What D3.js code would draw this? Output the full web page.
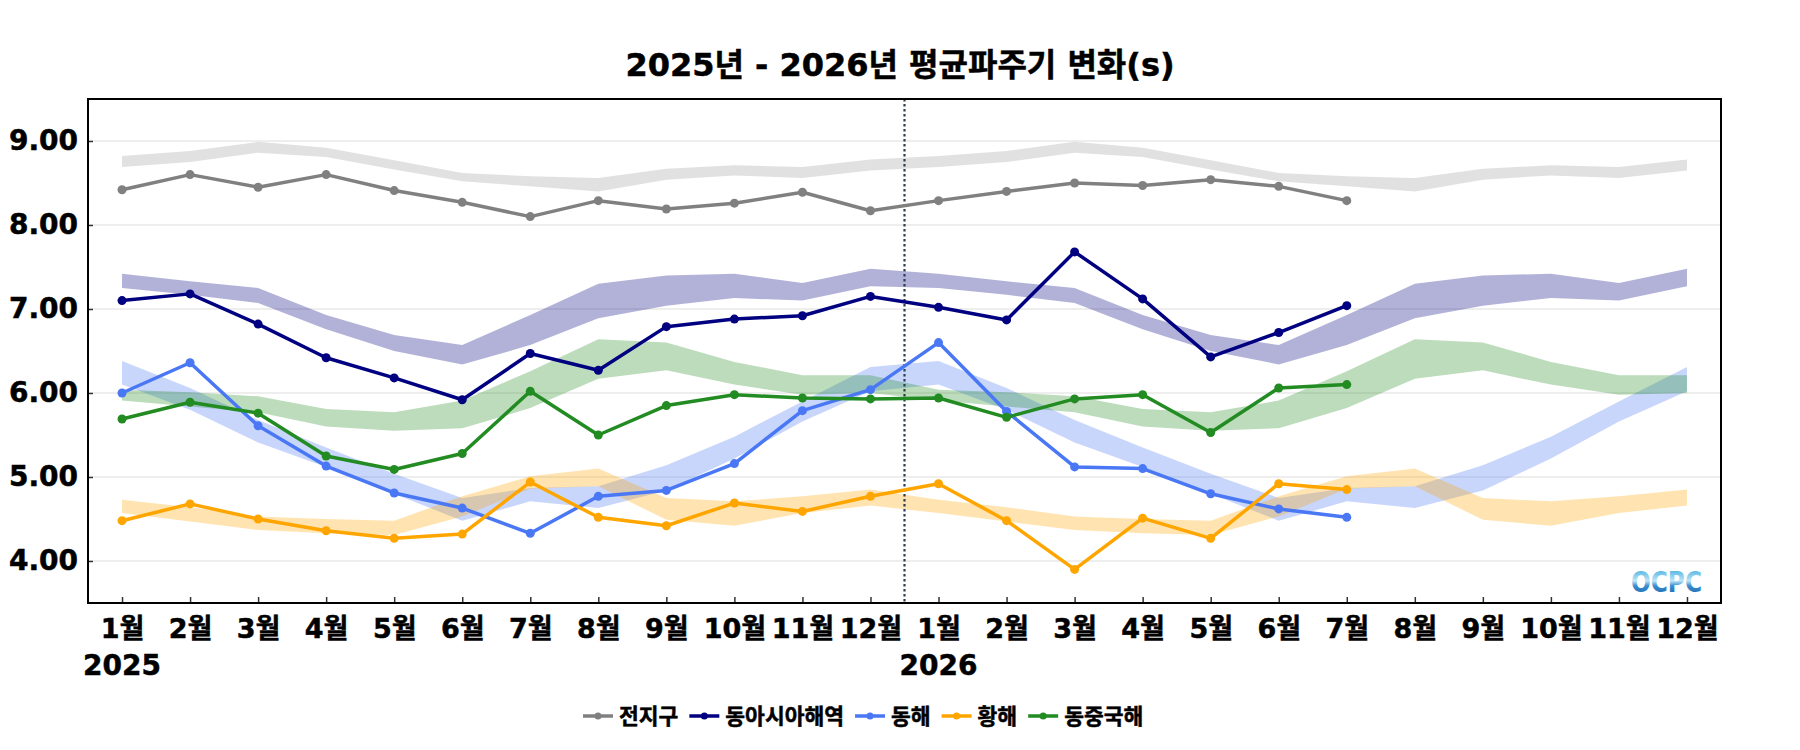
<!DOCTYPE html>
<html>
<head>
<meta charset="utf-8">
<title>평균파주기 변화</title>
<script src="https://d3js.org/d3.v7.min.js"></script>
<style>
	body { margin: 0; background: #ffffff; }
	svg text { font-family: 'DejaVu Sans', 'Noto Sans CJK KR', sans-serif; font-weight: bold; fill: #000; stroke: #000; stroke-width: 0.5px; }
	.grid line { stroke: #dddddd; stroke-width: 1px; }
	.axis path { display: none; }
	.axis line { stroke: #333333; stroke-width: 1.5px; }
</style>
</head>
<body>
<script>
'use strict';
const months = ['1월', '2월', '3월', '4월', '5월', '6월', '7월', '8월', '9월', '10월', '11월', '12월'];
const years = ['2025', '2026'];
const yTicks = [4, 5, 6, 7, 8, 9];

// monthly observations, Jan 2025 .. Jul 2026
const seriesNames = ['전지구', '동아시아해역', '동해', '황해', '동중국해'];
const global = [8.42, 8.60, 8.45, 8.60, 8.41, 8.27, 8.10, 8.29, 8.19, 8.26, 8.39, 8.17, 8.29, 8.40, 8.50, 8.47, 8.54, 8.46, 8.29];
const eastAsia = [7.10, 7.18, 6.82, 6.42, 6.18, 5.92, 6.47, 6.27, 6.79, 6.88, 6.92, 7.15, 7.02, 6.87, 7.68, 7.12, 6.43, 6.72, 7.04];
const eastSea = [6.00, 6.36, 5.61, 5.13, 4.81, 4.63, 4.33, 4.77, 4.84, 5.16, 5.79, 6.04, 6.60, 5.78, 5.12, 5.10, 4.80, 4.62, 4.52];
const yellowSea = [4.48, 4.68, 4.50, 4.36, 4.27, 4.32, 4.94, 4.52, 4.42, 4.69, 4.59, 4.77, 4.92, 4.48, 3.90, 4.51, 4.27, 4.92, 4.85];
const eastChinaSea = [5.69, 5.89, 5.76, 5.25, 5.09, 5.28, 6.02, 5.50, 5.85, 5.98, 5.94, 5.93, 5.94, 5.71, 5.93, 5.98, 5.53, 6.06, 6.10];

// climatological range per month (same for each year)
const globalHi = [8.82, 8.88, 8.99, 8.92, 8.77, 8.62, 8.58, 8.56, 8.67, 8.71, 8.69, 8.78];
const globalLo = [8.69, 8.75, 8.86, 8.81, 8.66, 8.52, 8.46, 8.40, 8.54, 8.59, 8.56, 8.65];
const eastAsiaHi = [7.42, 7.33, 7.25, 6.93, 6.69, 6.57, 6.93, 7.30, 7.40, 7.42, 7.31, 7.48];
const eastAsiaLo = [7.25, 7.17, 7.07, 6.76, 6.50, 6.34, 6.57, 6.89, 7.04, 7.13, 7.10, 7.27];
const eastSeaHi = [6.38, 6.06, 5.68, 5.35, 5.04, 4.75, 4.87, 4.89, 5.14, 5.48, 5.90, 6.31];
const eastSeaLo = [6.10, 5.80, 5.41, 5.12, 4.80, 4.48, 4.71, 4.63, 4.84, 5.22, 5.66, 6.02];
const yellowSeaHi = [4.73, 4.64, 4.53, 4.50, 4.48, 4.77, 5.01, 5.10, 4.75, 4.71, 4.77, 4.85];
const yellowSeaLo = [4.57, 4.47, 4.37, 4.33, 4.31, 4.53, 4.86, 4.89, 4.49, 4.42, 4.57, 4.66];
const eastChinaSeaHi = [6.04, 6.01, 5.96, 5.81, 5.77, 5.91, 6.26, 6.64, 6.60, 6.37, 6.21, 6.21];
const eastChinaSeaLo = [5.91, 5.84, 5.77, 5.60, 5.55, 5.58, 5.82, 6.17, 6.27, 6.10, 5.98, 6.00];

const colors = ['#808080', '#000080', '#4a78f5', '#ffa500', '#228b22'];
const lines = [global, eastAsia, eastSea, yellowSea, eastChinaSea];
const bands = [[globalHi, globalLo], [eastAsiaHi, eastAsiaLo], [eastSeaHi, eastSeaLo],
	[yellowSeaHi, yellowSeaLo], [eastChinaSeaHi, eastChinaSeaLo]];

const W = 1800, H = 750;
const plotLeft = 88, plotRight = 1721, plotTop = 99, plotBottom = 603;
const nMonths = months.length * years.length;

const x = d3.scaleLinear().domain([-0.5, nMonths - 0.5]).range([plotLeft, plotRight]);
const y = d3.scaleLinear().domain([3.5, 9.5]).range([plotBottom, plotTop]);

const svg = d3.select('body').append('svg')
	.attr('width', W)
	.attr('height', H);

// title
svg.append('text')
	.attr('x', 900)
	.attr('y', 76)
	.attr('text-anchor', 'middle')
	.style('font-size', '32px')
	.text('2025년 - 2026년 평균파주기 변화(s)');

// horizontal grid
svg.append('g')
	.attr('class', 'grid')
	.selectAll('line')
	.data(yTicks)
	.enter().append('line')
		.attr('x1', plotLeft)
		.attr('x2', plotRight)
		.attr('y1', d => y(d))
		.attr('y2', d => y(d));

// bands: climatology repeated for both years
const area = d3.area()
	.x(d => x(d.i))
	.y0(d => y(d.lo))
	.y1(d => y(d.hi));

bands.forEach(function (b, k) {
	const pts = d3.range(nMonths).map(i => ({ i: i, hi: b[0][i % 12], lo: b[1][i % 12] }));
	svg.append('path')
		.datum(pts)
		.attr('d', area)
		.attr('fill', colors[k])
		.attr('fill-opacity', k === 0 ? 0.24 : 0.3);
});

// year divider
svg.append('line')
	.attr('x1', x(11.5))
	.attr('x2', x(11.5))
	.attr('y1', plotTop)
	.attr('y2', plotBottom)
	.attr('stroke', '#2c3e50')
	.attr('stroke-width', 2.2)
	.attr('stroke-dasharray', '2.5,2.5');

// observed series
const line = d3.line()
	.x((d, i) => x(i))
	.y(d => y(d));

lines.forEach(function (s, k) {
	const g = svg.append('g');
	g.append('path')
		.datum(s)
		.attr('d', line)
		.attr('fill', 'none')
		.attr('stroke', colors[k])
		.attr('stroke-width', 3.5)
		.attr('stroke-linejoin', 'round');
	g.selectAll('circle')
		.data(s)
		.enter().append('circle')
			.attr('cx', (d, i) => x(i))
			.attr('cy', d => y(d))
			.attr('r', 4.5)
			.attr('fill', colors[k]);
});

// axes
svg.append('g')
	.attr('class', 'axis')
	.attr('transform', 'translate(' + plotLeft + ',0)')
	.call(d3.axisLeft(y)
		.tickValues(yTicks)
		.tickFormat(d3.format('.2f'))
		.tickSize(-5)
		.tickPadding(10))
	.selectAll('text')
		.style('font-size', '28px');

svg.append('g')
	.attr('class', 'axis')
	.attr('transform', 'translate(0,' + plotBottom + ')')
	.call(d3.axisBottom(x)
		.tickValues(d3.range(nMonths))
		.tickFormat(i => months[i % 12])
		.tickSize(-6)
		.tickPadding(16))
	.selectAll('text')
		.style('font-size', '27px');

// year labels
svg.selectAll('.year')
	.data(years)
	.enter().append('text')
		.attr('class', 'year')
		.attr('x', (d, i) => x(i * 12))
		.attr('y', 675)
		.attr('text-anchor', 'middle')
		.style('font-size', '28px')
		.text(d => d);

// frame
svg.append('rect')
	.attr('x', plotLeft)
	.attr('y', plotTop)
	.attr('width', plotRight - plotLeft)
	.attr('height', plotBottom - plotTop)
	.attr('fill', 'none')
	.attr('stroke', '#000')
	.attr('stroke-width', 2);

// logo
const grad = svg.append('defs').append('linearGradient')
	.attr('id', 'logoGrad')
	.attr('x1', 0).attr('y1', 0).attr('x2', 0).attr('y2', 1);
grad.append('stop').attr('offset', '0%').attr('stop-color', '#29a3dc');
grad.append('stop').attr('offset', '45%').attr('stop-color', '#bfe6f7');
grad.append('stop').attr('offset', '60%').attr('stop-color', '#3a8fd0');
grad.append('stop').attr('offset', '100%').attr('stop-color', '#1257a3');
svg.append('text')
	.attr('x', 1631)
	.attr('y', 592)
	.attr('textLength', 71)
	.attr('lengthAdjust', 'spacingAndGlyphs')
	.style('font-size', '28px')
	.style('stroke', 'none')
	.style('fill', 'url(#logoGrad)')
	.text('OCPC');

// legend
const legend = svg.append('g').attr('transform', 'translate(583,716)');
let lx = 0;
seriesNames.forEach(function (name, k) {
	const item = legend.append('g').attr('transform', 'translate(' + lx + ',0)');
	item.append('line')
		.attr('x1', 0).attr('x2', 30)
		.attr('stroke', colors[k])
		.attr('stroke-width', 3.5);
	item.append('circle')
		.attr('cx', 15)
		.attr('r', 3.5)
		.attr('fill', colors[k]);
	const t = item.append('text')
		.attr('x', 36)
		.attr('dy', '0.36em')
		.style('font-size', '21.5px')
		.text(name);
	lx += 36 + t.node().getComputedTextLength() + 11;
});
</script>
</body>
</html>
